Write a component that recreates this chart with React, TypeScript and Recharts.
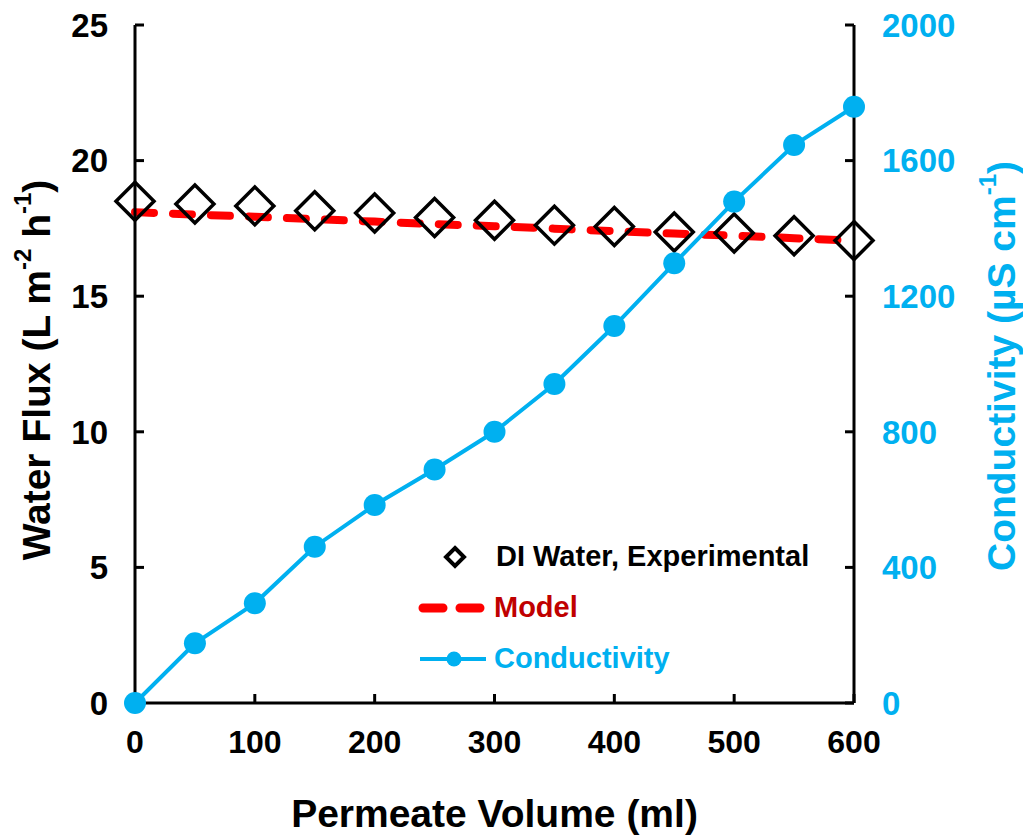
import React from 'react';
import { ComposedChart, Line, XAxis, YAxis, Label } from 'recharts';

const volume = [0, 50, 100, 150, 200, 250, 300, 350, 400, 450, 500, 550, 600];
const fluxExp = [18.5, 18.4, 18.33, 18.15, 18.07, 17.9, 17.8, 17.62, 17.57, 17.37, 17.33, 17.23, 17.05];
const fluxModel = [18.1, 18.01, 17.93, 17.84, 17.75, 17.66, 17.58, 17.49, 17.4, 17.31, 17.23, 17.14, 17.05];
const conductivity = [0, 176, 294, 461, 584, 689, 800, 941, 1112, 1297, 1479, 1646, 1759];

const xTicks = [0, 100, 200, 300, 400, 500, 600];
const fluxTicks = [0, 5, 10, 15, 20, 25];
const condTicks = [0, 400, 800, 1200, 1600, 2000];

const legendNames = ['DI Water, Experimental', 'Model', 'Conductivity'];

const BLUE = '#00B0F0';
const RED = '#FF0000';
const DARKRED = '#C00000';
const FONT = '"Liberation Sans", Arial, sans-serif';

const data = volume.map((v, i) => ({
    volume: v,
    flux: fluxExp[i],
    model: fluxModel[i],
    cond: conductivity[i],
}));

const axisLine = { stroke: '#000', strokeWidth: 3 };

const Diamond = (props: any) => {
    const { cx, cy, index } = props;
    if (cx == null || cy == null) return null;
    const h = 19;
    return (
        <polygon
            key={`d-${index}`}
            points={`${cx},${cy - h} ${cx + h},${cy} ${cx},${cy + h} ${cx - h},${cy}`}
            fill="none"
            stroke="#000"
            strokeWidth={3.5}
        />
    );
};

const leftTitle = (props: any) => {
    const { viewBox } = props;
    const cx = viewBox.x + 36;
    const cy = viewBox.y + viewBox.height / 2 + 6;
    return (
        <text x={cx} y={cy} transform={`rotate(-90, ${cx}, ${cy})`} textAnchor="middle"
            dominantBaseline="central" fontFamily={FONT} fontWeight="bold" fontSize={39} fill="#000">
            <tspan>Water Flux (L m</tspan>
            <tspan dy={-14} fontSize={24}>-2</tspan>
            <tspan dy={14}> h</tspan>
            <tspan dy={-14} fontSize={24}>-1</tspan>
            <tspan dy={14}>)</tspan>
        </text>
    );
};

const rightTitle = (props: any) => {
    const { viewBox } = props;
    const cx = viewBox.x + viewBox.width - 22;
    const cy = viewBox.y + viewBox.height / 2 + 2;
    return (
        <text x={cx} y={cy} transform={`rotate(-90, ${cx}, ${cy})`} textAnchor="middle"
            dominantBaseline="central" fontFamily={FONT} fontWeight="bold" fontSize={39} fill={BLUE}>
            <tspan>Conductivity (µS cm</tspan>
            <tspan dy={-14} fontSize={24}>-1</tspan>
            <tspan dy={14}>)</tspan>
        </text>
    );
};

const bottomTitle = (props: any) => {
    const { viewBox } = props;
    return (
        <text x={viewBox.x + viewBox.width / 2} y={viewBox.y + 110} textAnchor="middle"
            dominantBaseline="central" fontFamily={FONT} fontWeight="bold" fontSize={39} fill="#000">
            Permeate Volume (ml)
        </text>
    );
};

const LegendBox = () => {
    const row: React.CSSProperties = { display: 'flex', alignItems: 'center', height: 51 };
    const txt: React.CSSProperties = { fontFamily: FONT, fontWeight: 'bold', fontSize: 29, marginLeft: 6, whiteSpace: 'nowrap' };
    return (
        <div style={{ position: 'absolute', left: 418, top: 531 }}>
            <div style={row}>
                <svg width={70} height={30}>
                    <polygon points="37,6 46,15 37,24 28,15" fill="none" stroke="#000" strokeWidth={4} />
                </svg>
                <span style={{ ...txt, color: '#000', marginLeft: 8 }}>{legendNames[0]}</span>
            </div>
            <div style={row}>
                <svg width={70} height={30}>
                    <line x1={5} y1={15} x2={65} y2={15} stroke={RED} strokeWidth={9}
                        strokeDasharray="20 17" strokeLinecap="round" />
                </svg>
                <span style={{ ...txt, color: DARKRED }}>{legendNames[1]}</span>
            </div>
            <div style={row}>
                <svg width={70} height={30}>
                    <line x1={2} y1={15} x2={68} y2={15} stroke={BLUE} strokeWidth={4} />
                    <circle cx={36} cy={15} r={7.5} fill={BLUE} />
                </svg>
                <span style={{ ...txt, color: BLUE }}>{legendNames[2]}</span>
            </div>
        </div>
    );
};

export default function App() {
    return (
        <div style={{ position: 'absolute', left: 0, top: 0, width: 1023, height: 835 }}>
            <ComposedChart width={1023} height={835} data={data}
                margin={{ top: 25, right: 0, bottom: 0, left: 0 }}>
                <XAxis dataKey="volume" type="number" domain={[0, 600]} ticks={xTicks}
                    height={132} axisLine={axisLine} tickLine={axisLine} tickSize={-9} tickMargin={36}
                    tick={{ fill: '#000', fontSize: 32, fontWeight: 'bold', fontFamily: FONT }}>
                    <Label content={bottomTitle} />
                </XAxis>
                <YAxis yAxisId="flux" orientation="left" domain={[0, 25]} ticks={fluxTicks}
                    width={135} axisLine={axisLine} tickLine={axisLine} tickSize={-9} tickMargin={36}
                    tick={{ fill: '#000', fontSize: 33, fontWeight: 'bold', fontFamily: FONT }}>
                    <Label content={leftTitle} />
                </YAxis>
                <YAxis yAxisId="cond" orientation="right" domain={[0, 2000]} ticks={condTicks}
                    width={169} axisLine={axisLine} tickLine={axisLine} tickSize={-9} tickMargin={37}
                    tick={{ fill: BLUE, fontSize: 33, fontWeight: 'bold', fontFamily: FONT }}>
                    <Label content={rightTitle} />
                </YAxis>
                <Line yAxisId="flux" dataKey="model" stroke={RED} strokeWidth={8}
                    strokeDasharray="19 19" strokeLinecap="round" dot={false} activeDot={false}
                    isAnimationActive={false} />
                <Line yAxisId="flux" dataKey="flux" stroke="none" dot={Diamond} activeDot={false}
                    isAnimationActive={false} />
                <Line yAxisId="cond" dataKey="cond" stroke={BLUE} strokeWidth={4}
                    dot={{ r: 11, fill: BLUE, stroke: 'none' }} activeDot={false}
                    isAnimationActive={false} />
            </ComposedChart>
            <LegendBox />
        </div>
    );
}
